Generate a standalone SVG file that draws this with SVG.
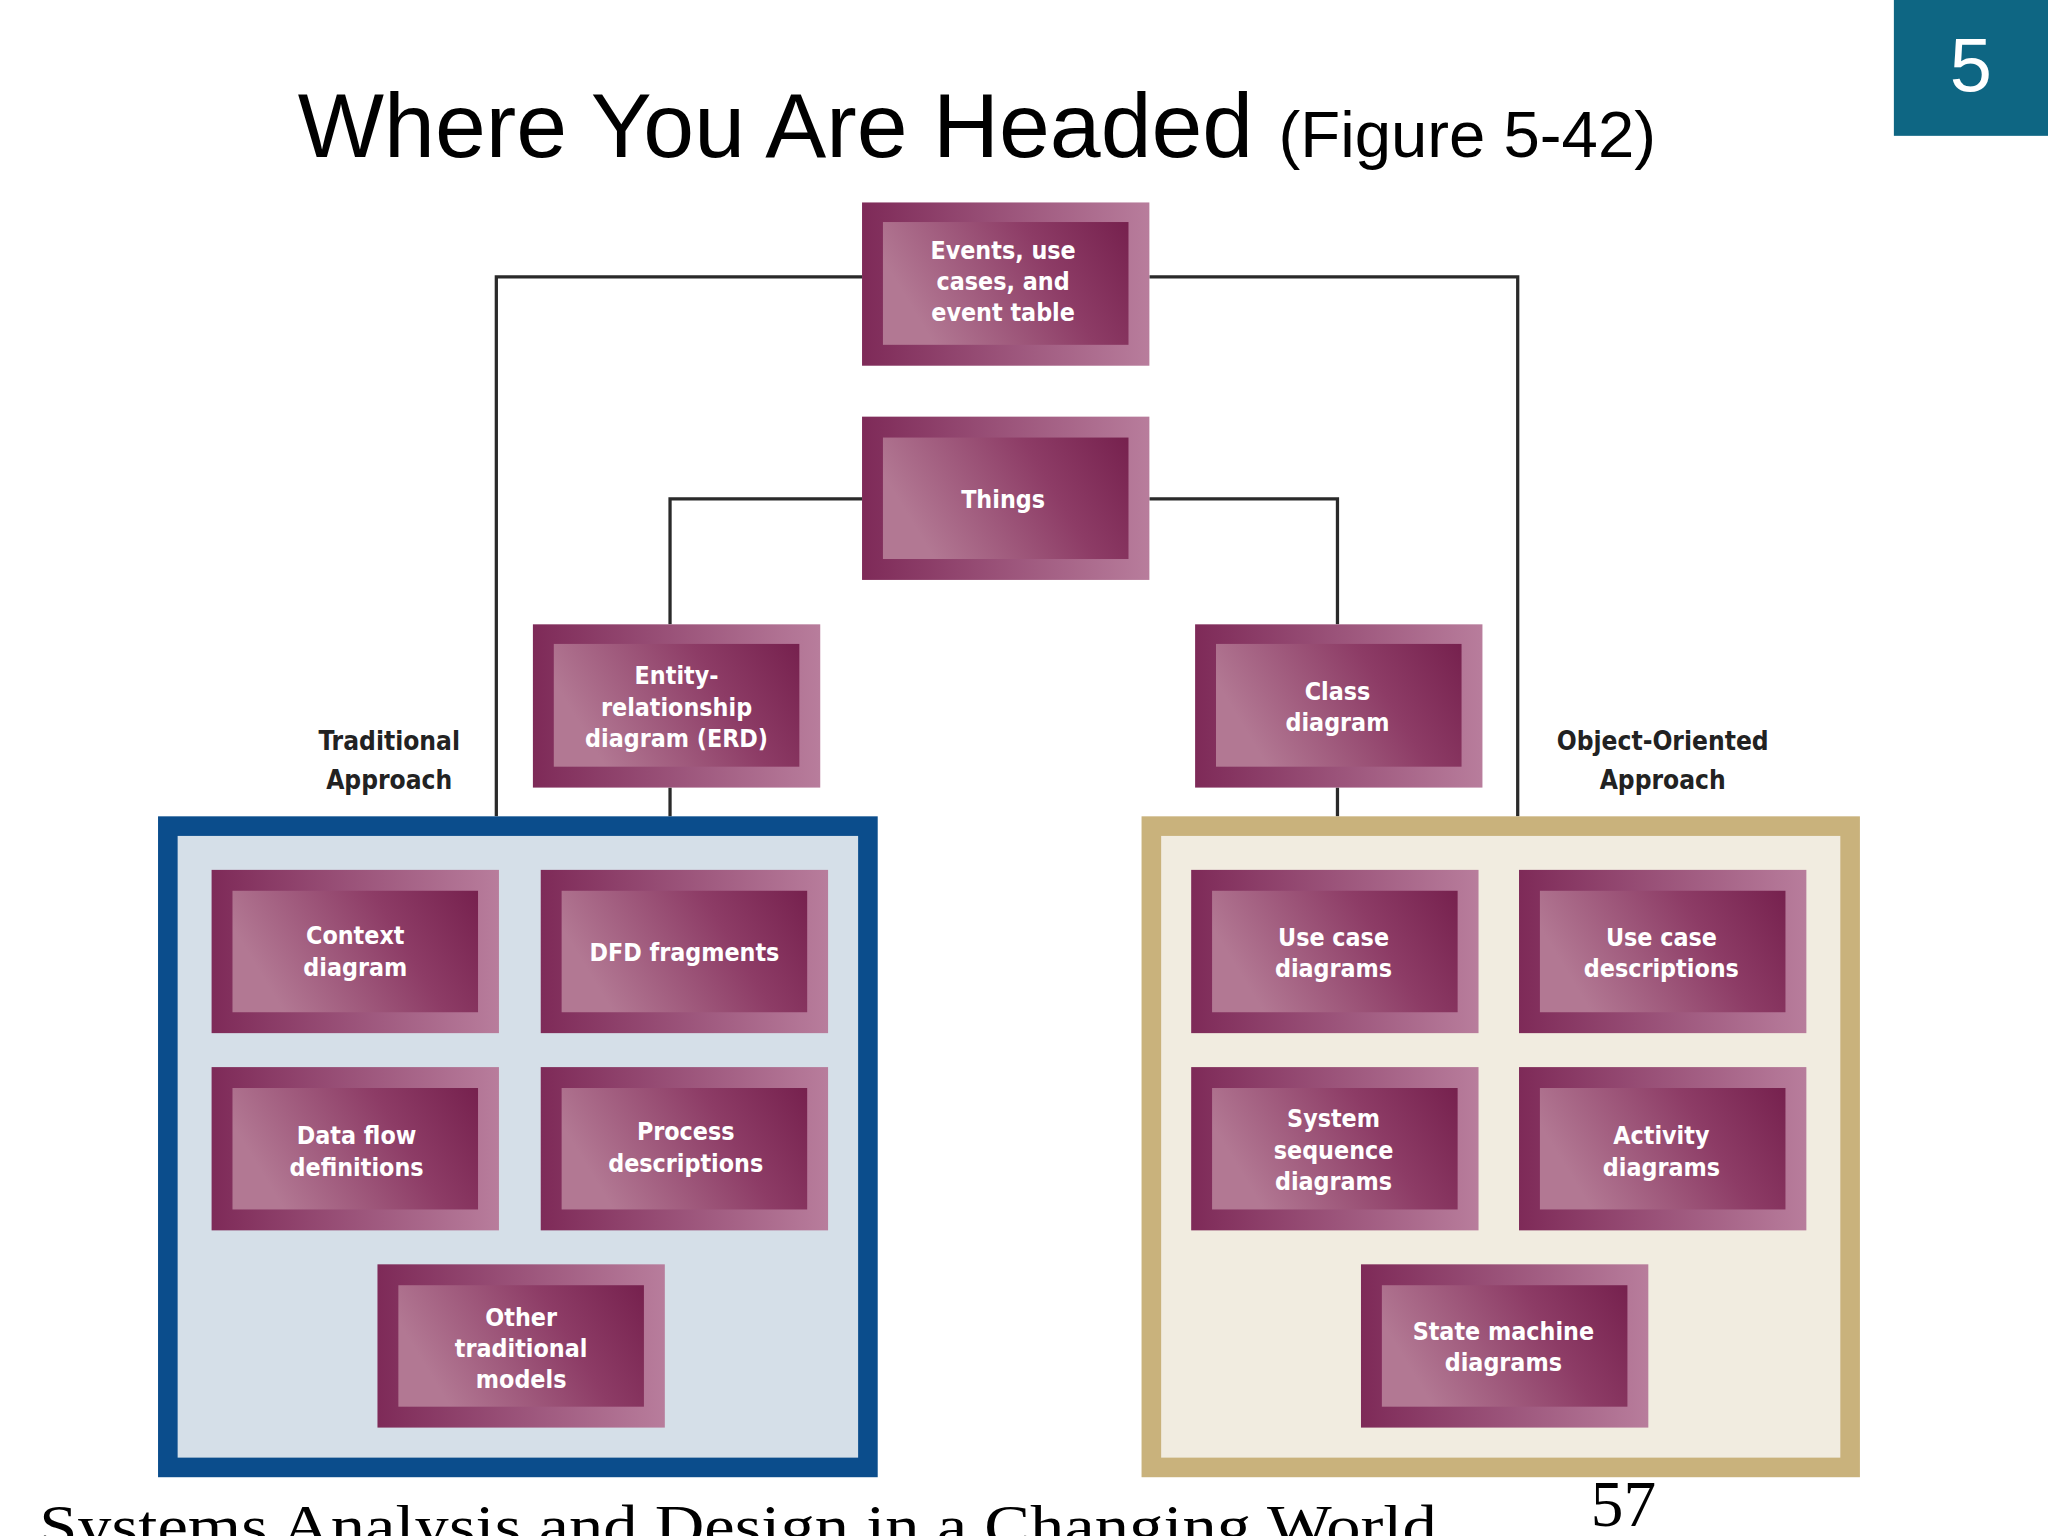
<svg xmlns="http://www.w3.org/2000/svg" width="2048" height="1536" viewBox="0 0 2048 1536">
<defs>
<linearGradient id="go" x1="0" y1="0" x2="1" y2="0"><stop offset="0" stop-color="#7e2a58"/><stop offset="1" stop-color="#b87d9c"/></linearGradient>
<linearGradient id="gi" x1="0" y1="0.3" x2="1" y2="0"><stop offset="0" stop-color="#b27893"/><stop offset="0.6" stop-color="#8d3c66"/><stop offset="1" stop-color="#76214e"/></linearGradient>
<style>
.o{fill:url(#go)}
.i{fill:url(#gi)}
.t{font-family:"DejaVu Sans Condensed","DejaVu Sans",sans-serif;font-weight:bold;font-size:19px;fill:#fff;text-anchor:middle}
.l{font-family:"DejaVu Sans Condensed","DejaVu Sans",sans-serif;font-weight:bold;font-size:20px;fill:#222;text-anchor:middle}
.c{fill:none;stroke:#2a2a2a;stroke-width:2.5}
</style>
</defs>
<rect width="2048" height="1536" fill="#fff"/>
<g transform="scale(1.30612)">
<rect x="1450" y="0" width="118" height="104" fill="#0e6683"/>
<text x="1509" y="70" font-family="Liberation Sans,Arial,sans-serif" font-size="58" fill="#fff" text-anchor="middle">5</text>
<text x="228" y="120" font-family="Liberation Sans,Arial,sans-serif" font-size="70" fill="#000">Where You Are Headed <tspan font-size="50">(Figure 5-42)</tspan></text>

<g id="connectors">
<polyline class="c" points="660,212 380,212 380,625"/>
<polyline class="c" points="880,212 1162,212 1162,625"/>
<polyline class="c" points="660,382 513,382 513,478"/>
<polyline class="c" points="880,382 1024,382 1024,478"/>
<line class="c" x1="513" y1="603" x2="513" y2="625"/>
<line class="c" x1="1024" y1="603" x2="1024" y2="625"/>
</g>

<g id="traditional-box"><rect x="128.5" y="632.5" width="536" height="491" fill="#d5dfe8" stroke="#0b4d8c" stroke-width="15"/></g>
<g id="oo-box"><rect x="881.5" y="632.5" width="535" height="491" fill="#f1ece0" stroke="#c9b27c" stroke-width="15"/></g>

<text class="l" x="298" y="574">Traditional</text><text class="l" x="298" y="604">Approach</text>
<text class="l" x="1273" y="574">Object-Oriented</text><text class="l" x="1273" y="604">Approach</text>

<g id="events"><rect class="o" x="660" y="155" width="220" height="125"/><rect class="i" x="676" y="170" width="188" height="94"/><text class="t" x="768" y="198">Events, use</text><text class="t" x="768" y="222">cases, and</text><text class="t" x="768" y="246">event table</text></g>
<g id="things"><rect class="o" x="660" y="319" width="220" height="125"/><rect class="i" x="676" y="335" width="188" height="93"/><text class="t" x="768" y="389">Things</text></g>
<g id="erd"><rect class="o" x="408" y="478" width="220" height="125"/><rect class="i" x="424" y="493" width="188" height="94"/><text class="t" x="518" y="524">Entity-</text><text class="t" x="518" y="548">relationship</text><text class="t" x="518" y="572">diagram (ERD)</text></g>
<g id="class"><rect class="o" x="915" y="478" width="220" height="125"/><rect class="i" x="931" y="493" width="188" height="94"/><text class="t" x="1024" y="536">Class</text><text class="t" x="1024" y="560">diagram</text></g>

<g id="context"><rect class="o" x="162" y="666" width="220" height="125"/><rect class="i" x="178" y="682" width="188" height="93"/><text class="t" x="272" y="723">Context</text><text class="t" x="272" y="747">diagram</text></g>
<g id="dfd"><rect class="o" x="414" y="666" width="220" height="125"/><rect class="i" x="430" y="682" width="188" height="93"/><text class="t" x="524" y="736">DFD fragments</text></g>
<g id="dataflow"><rect class="o" x="162" y="817" width="220" height="125"/><rect class="i" x="178" y="833" width="188" height="93"/><text class="t" x="273" y="876">Data flow</text><text class="t" x="273" y="900">definitions</text></g>
<g id="process"><rect class="o" x="414" y="817" width="220" height="125"/><rect class="i" x="430" y="833" width="188" height="93"/><text class="t" x="525" y="873">Process</text><text class="t" x="525" y="897">descriptions</text></g>
<g id="other"><rect class="o" x="289" y="968" width="220" height="125"/><rect class="i" x="305" y="984" width="188" height="93"/><text class="t" x="399" y="1015">Other</text><text class="t" x="399" y="1039">traditional</text><text class="t" x="399" y="1063">models</text></g>

<g id="usecasediag"><rect class="o" x="912" y="666" width="220" height="125"/><rect class="i" x="928" y="682" width="188" height="93"/><text class="t" x="1021" y="724">Use case</text><text class="t" x="1021" y="748">diagrams</text></g>
<g id="usecasedesc"><rect class="o" x="1163" y="666" width="220" height="125"/><rect class="i" x="1179" y="682" width="188" height="93"/><text class="t" x="1272" y="724">Use case</text><text class="t" x="1272" y="748">descriptions</text></g>
<g id="sequence"><rect class="o" x="912" y="817" width="220" height="125"/><rect class="i" x="928" y="833" width="188" height="93"/><text class="t" x="1021" y="863">System</text><text class="t" x="1021" y="887">sequence</text><text class="t" x="1021" y="911">diagrams</text></g>
<g id="activity"><rect class="o" x="1163" y="817" width="220" height="125"/><rect class="i" x="1179" y="833" width="188" height="93"/><text class="t" x="1272" y="876">Activity</text><text class="t" x="1272" y="900">diagrams</text></g>
<g id="statemachine"><rect class="o" x="1042" y="968" width="220" height="125"/><rect class="i" x="1058" y="984" width="188" height="93"/><text class="t" x="1151" y="1026">State machine</text><text class="t" x="1151" y="1050">diagrams</text></g>

<text x="30" y="1184" font-family="Liberation Serif,serif" font-size="46" fill="#000" textLength="1070" lengthAdjust="spacingAndGlyphs">Systems Analysis and Design in a Changing World</text>
<text x="1218" y="1168" font-family="Liberation Serif,serif" font-size="50" fill="#000">57</text>
</g>
</svg>
